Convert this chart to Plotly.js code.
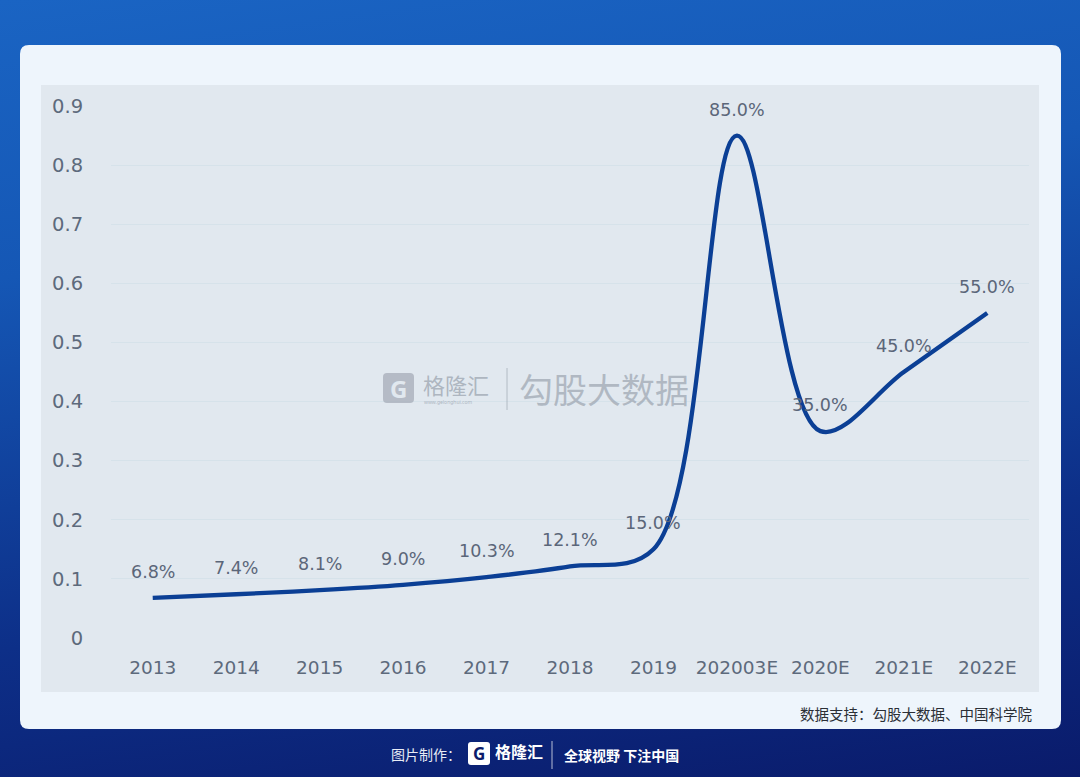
<!DOCTYPE html>
<html>
<head>
<meta charset="utf-8">
<script src="https://cdn.plot.ly/plotly-3.0.1.min.js"></script>
<style>
html,body{margin:0;padding:0;}
body{width:1080px;height:777px;overflow:hidden;
background:linear-gradient(172deg,#1a64c3 0%,#1557b5 30%,#0d2f88 70%,#0a1b6b 100%);}
#chart{width:1080px;height:777px;}
</style>
</head>
<body>
<div id="chart"></div>
<script>
const categories = ['2013','2014','2015','2016','2017','2018','2019','202003E','2020E','2021E','2022E'];
const values = [0.068,0.074,0.081,0.090,0.103,0.121,0.150,0.850,0.350,0.450,0.550];
const labels = ['6.8%','7.4%','8.1%','9.0%','10.3%','12.1%','15.0%','85.0%','35.0%','45.0%','55.0%'];
const yTicks = [0,0.1,0.2,0.3,0.4,0.5,0.6,0.7,0.8,0.9];
const yTickText = ['0','0.1','0.2','0.3','0.4','0.5','0.6','0.7','0.8','0.9'];
const sourceText = '数据支持：勾股大数据、中国科学院';

const W = 1080, H = 777;
const mL = 111, mR = 51, mT = 106, mB = 139;
const pw = W - mL - mR, ph = H - mT - mB;
const px = x => (x - mL) / pw;
const py = y => (H - mB - y) / ph;

function roundRect(x0,y0,x1,y1,r){
  const X0=px(x0),X1=px(x1),Y0=py(y0),Y1=py(y1);
  const rx=r/pw, ry=r/ph;
  return `M ${X0+rx},${Y0} L ${X1-rx},${Y0} Q ${X1},${Y0} ${X1},${Y0-ry} L ${X1},${Y1+ry} Q ${X1},${Y1} ${X1-rx},${Y1} L ${X0+rx},${Y1} Q ${X0},${Y1} ${X0},${Y1+ry} L ${X0},${Y0-ry} Q ${X0},${Y0} ${X0+rx},${Y0} Z`;
}

const shapes = [
  {type:'path', xref:'paper', yref:'paper', path: roundRect(20,45,1061,729,9),
   fillcolor:'#eef5fc', line:{width:0}, layer:'below'},
  {type:'rect', xref:'paper', yref:'paper', x0:px(41), x1:px(1039), y0:py(85), y1:py(692),
   fillcolor:'#e1e8ef', line:{width:0}, layer:'below'},
  {type:'line', xref:'paper', yref:'paper', x0:px(507), x1:px(507), y0:py(368), y1:py(410),
   line:{color:'rgba(160,168,180,0.7)', width:1}},
  {type:'path', xref:'paper', yref:'paper', path: roundRect(383,373,414,403,4),
   fillcolor:'rgba(165,172,184,0.75)', line:{width:0}},
  {type:'line', xref:'paper', yref:'paper', x0:px(552), x1:px(552), y0:py(741), y1:py(769),
   line:{color:'rgba(255,255,255,0.7)', width:1}},
  {type:'path', xref:'paper', yref:'paper', path: roundRect(468,742,490,765,3),
   fillcolor:'#ffffff', line:{width:0}}
];

const annotations = [
  {xref:'paper', yref:'paper', x:px(1034), y:py(713), xanchor:'right', yanchor:'middle',
   text: sourceText, showarrow:false, font:{family:'Noto Sans CJK SC', size:14.5, color:'#2b2f36'}},
  {xref:'paper', yref:'paper', x:px(398), y:py(388), xanchor:'center', yanchor:'middle',
   text:'<b>G</b>', showarrow:false, font:{family:'Noto Sans', size:24, color:'#e1e8ef'}},
  {xref:'paper', yref:'paper', x:px(421), y:py(384), xanchor:'left', yanchor:'middle',
   text:'格隆汇', showarrow:false, font:{family:'Noto Sans CJK SC', size:22, color:'rgba(160,168,180,0.8)'}},
  {xref:'paper', yref:'paper', x:px(422), y:py(402), xanchor:'left', yanchor:'middle',
   text:'www.gelonghui.com', showarrow:false, font:{family:'Noto Sans', size:5, color:'rgba(160,168,180,0.8)'}},
  {xref:'paper', yref:'paper', x:px(517), y:py(388), xanchor:'left', yanchor:'middle',
   text:'勾股大数据', showarrow:false, font:{family:'Noto Sans CJK SC', size:34, color:'rgba(160,168,180,0.75)'}},
  {xref:'paper', yref:'paper', x:px(389), y:py(754), xanchor:'left', yanchor:'middle',
   text:'图片制作：', showarrow:false, font:{family:'Noto Sans CJK SC', size:14, color:'#e8ecf5'}},
  {xref:'paper', yref:'paper', x:px(479), y:py(753), xanchor:'center', yanchor:'middle',
   text:'<b>G</b>', showarrow:false, font:{family:'Noto Sans', size:17, color:'#0b1b6b'}},
  {xref:'paper', yref:'paper', x:px(493), y:py(751), xanchor:'left', yanchor:'middle',
   text:'<b>格隆汇</b>', showarrow:false, font:{family:'Noto Sans CJK SC', size:16, color:'#ffffff'}},
  {xref:'paper', yref:'paper', x:px(562), y:py(755), xanchor:'left', yanchor:'middle',
   text:'<b>全球视野 下注中国</b>', showarrow:false, font:{family:'Noto Sans CJK SC', size:14, color:'#ffffff'}}
];

// data labels placed above each point (x given as category index)
categories.forEach((c, i) => {
  annotations.push({x:i, y:values[i], xref:'x', yref:'y', text:labels[i], showarrow:false,
    yanchor:'bottom', yshift:14,
    font:{family:'DejaVu Sans', size:17.5, color:'#5b6679'}});
});

const trace = {
  x: categories, y: values, type:'scatter', mode:'lines',
  line:{shape:'spline', smoothing:1, color:'#0b3f95', width:4.3},
  cliponaxis:false, hoverinfo:'none'
};

const layout = {
  width:W, height:H,
  margin:{l:mL, r:mR, t:mT, b:mB, pad:0},
  paper_bgcolor:'rgba(0,0,0,0)', plot_bgcolor:'rgba(0,0,0,0)',
  showlegend:false,
  xaxis:{type:'category', range:[-0.5,10.5], showgrid:false, zeroline:false, showline:false,
    ticks:'outside', ticklen:13, tickcolor:'rgba(0,0,0,0)',
    tickfont:{family:'DejaVu Sans', size:18.5, color:'#5d6a7c'}, fixedrange:true},
  yaxis:{range:[0,0.9], tickvals:yTicks, ticktext:yTickText, showgrid:true,
    gridcolor:'#d6e2ea', gridwidth:1, zeroline:false, showline:false,
    ticks:'outside', ticklen:23, tickcolor:'rgba(0,0,0,0)',
    tickfont:{family:'DejaVu Sans', size:19.5, color:'#5d6a7c'}, fixedrange:true},
  shapes: shapes, annotations: annotations
};

Plotly.newPlot('chart', [trace], layout, {displayModeBar:false, staticPlot:true});
</script>
</body>
</html>
